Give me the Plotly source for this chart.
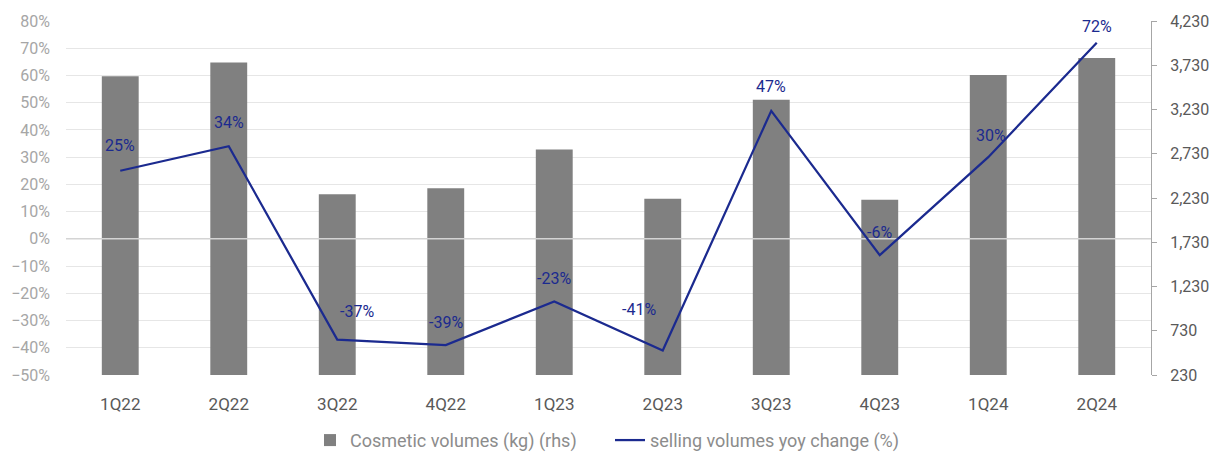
import plotly.graph_objects as go

# Quarterly data
quarters = ["1Q22", "2Q22", "3Q22", "4Q22", "1Q23", "2Q23", "3Q23", "4Q23", "1Q24", "2Q24"]
cosmetic_volumes_kg = [3605, 3762, 2273, 2341, 2778, 2221, 3341, 2209, 3621, 3812]
yoy_change_pct = [25, 34, -37, -39, -23, -41, 47, -6, 30, 72]

# Label placement offsets in pixels (x, y) for each yoy point
label_offsets = [(0, 25), (0, 24), (20, 28), (0, 23), (0, 23),
                 (-24, 41), (0, 24), (0, 23), (3, 22), (0, 16)]

FONT = "Roboto"
NAVY = "#1b2a8f"
BAR_GREY = "#808080"

# quarters sit at integer positions on a numeric x axis
xpos = list(range(len(quarters)))
x_lo, x_hi = -0.5, len(quarters) - 0.5

fig = go.Figure()

fig.add_trace(go.Bar(
    x=xpos, y=cosmetic_volumes_kg, customdata=quarters,
    name="Cosmetic volumes (kg) (rhs)",
    marker=dict(color=BAR_GREY, line=dict(width=0)),
    yaxis="y", hovertemplate="%{customdata}: %{y:,}<extra></extra>",
))

# 0% reference line: above the bars, below the yoy line
fig.add_trace(go.Scatter(
    x=[x_lo, x_hi], y=[0, 0], mode="lines",
    line=dict(color="#d4d4d4", width=1.5),
    yaxis="y2", showlegend=False, hoverinfo="skip",
))

fig.add_trace(go.Scatter(
    x=xpos, y=yoy_change_pct, customdata=quarters,
    name="selling volumes yoy change (%)",
    mode="lines", line=dict(color=NAVY, width=2.25),
    yaxis="y2", hovertemplate="%{customdata}: %{y}%<extra></extra>",
))

for xp, v, (dx, dy) in zip(xpos, yoy_change_pct, label_offsets):
    fig.add_annotation(
        x=xp, y=v, xref="x", yref="y2", text=f"{v}%", showarrow=False,
        xshift=dx, yshift=dy, font=dict(family=FONT, size=16, color=NAVY),
    )

fig.update_layout(
    width=1220, height=454,
    margin=dict(l=66, r=69, t=21, b=79, autoexpand=False),
    paper_bgcolor="white", plot_bgcolor="white",
    font=dict(family=FONT, size=16, color="#595959"),
    bargap=0.66,
    showlegend=True,
    legend=dict(
        orientation="h", xref="container", x=0.5, xanchor="center",
        yref="container", y=0.03, yanchor="middle",
        font=dict(family=FONT, size=18, color="#8c8c8c"),
        itemwidth=30, tracegroupgap=0,
        entrywidth=255, entrywidthmode="pixels",
    ),
    xaxis=dict(
        range=[x_lo, x_hi], tickmode="array", tickvals=xpos, ticktext=quarters,
        showgrid=False, showline=False, ticks="", zeroline=False,
        tickfont=dict(family=FONT, size=17, color="#595959"),
        ticklabelstandoff=17,
    ),
    yaxis=dict(
        side="right", range=[230, 4230], tick0=230, dtick=500,
        tickformat=",", showgrid=False, zeroline=False,
        showline=True, linecolor="#a6a6a6", linewidth=1,
        ticks="outside", ticklen=5, tickcolor="#a6a6a6",
        tickfont=dict(family=FONT, size=16, color="#595959"),
        ticklabelstandoff=10,
    ),
    yaxis2=dict(
        overlaying="y", side="left", range=[-50, 80], dtick=10,
        ticksuffix="%", showgrid=True, gridcolor="#e6e6e6", gridwidth=1,
        zeroline=False, showline=False, ticks="",
        tickfont=dict(family=FONT, size=16, color="#a6a6a6"),
        ticklabelstandoff=15,
    ),
)

fig.write_html("out.html")
